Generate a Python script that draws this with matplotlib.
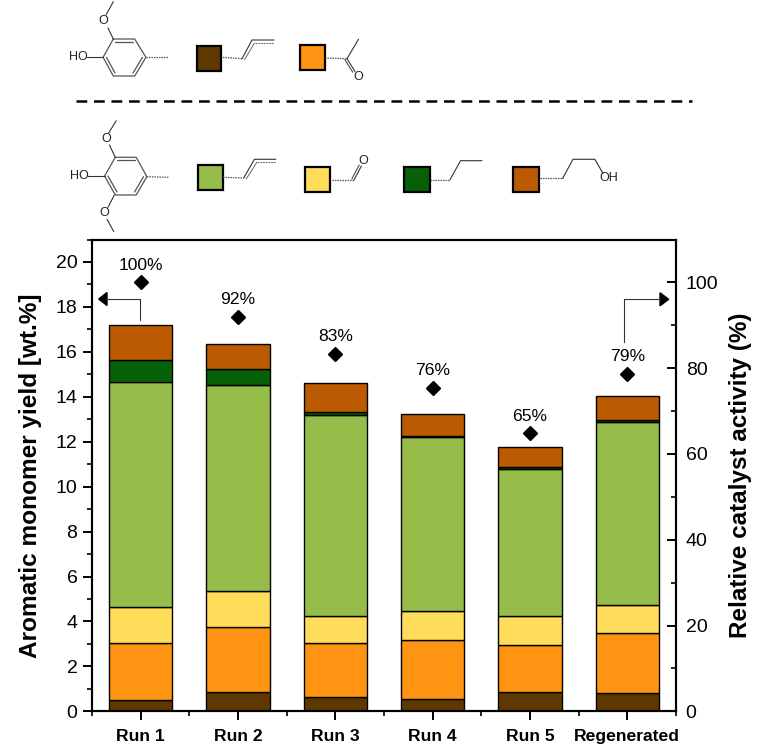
import numpy as np
import matplotlib
matplotlib.use('Agg')
import matplotlib.pyplot as plt
from matplotlib.patches import Rectangle, Polygon
from matplotlib.ticker import MultipleLocator, FixedLocator

plt.rcParams['font.family'] = ['Liberation Sans', 'DejaVu Sans']

runs = ['Run 1', 'Run 2', 'Run 3', 'Run 4', 'Run 5', 'Regenerated']
# cumulative tops of each stack segment
top_brown = [0.50, 0.86, 0.64, 0.55, 0.86, 0.83]
top_orange = [3.03, 3.77, 3.03, 3.19, 2.95, 3.47]
top_yellow = [4.63, 5.34, 4.24, 4.48, 4.24, 4.75]
top_green = [14.66, 14.51, 13.18, 12.22, 10.78, 12.87]
top_dkgreen = [15.64, 15.24, 13.34, 12.27, 10.88, 12.95]
top_rust = [17.18, 16.34, 14.60, 13.22, 11.76, 14.04]
activity = [100, 92, 83.4, 75.4, 64.8, 78.6]
activity_labels = ['100%', '92%', '83%', '76%', '65%', '79%']

BROWN = '#5f3800'
ORANGE = '#ff9412'
YELLOW = '#ffdc5a'
GREEN = '#96bd4a'
DKGREEN = '#056008'
RUST = '#bb5a00'

W, H = 763, 745
fig = plt.figure(figsize=(W / 100, H / 100), dpi=100)
L, R, T, B = 92, 676, 239.5, 711.3
ax = fig.add_axes([L / W, 1 - B / H, (R - L) / W, (B - T) / H])

x = np.arange(1, len(runs) + 1)
stack = [top_brown, top_orange, top_yellow, top_green, top_dkgreen, top_rust]
colors = [BROWN, ORANGE, YELLOW, GREEN, DKGREEN, RUST]
prev = np.zeros(len(runs))
for tops, c in zip(stack, colors):
    tops = np.array(tops)
    ax.bar(x, tops - prev, 0.65, bottom=prev, color=c, edgecolor='black', linewidth=1.0, zorder=2)
    prev = tops

ax.set_xlim(0.5, 6.5)
ax.set_ylim(0, 21)
ax.set_xticks(x)
ax.set_xticklabels(runs, fontsize=12.6, fontweight='bold')
ax.xaxis.set_minor_locator(FixedLocator(np.arange(0.5, 7, 1)))
ax.yaxis.set_major_locator(MultipleLocator(2))
ax.yaxis.set_minor_locator(MultipleLocator(1))
ax.tick_params(axis='y', which='major', labelsize=14, length=6.5, width=1.4, pad=4)
ax.tick_params(axis='y', which='minor', length=3.5, width=1.2)
ax.tick_params(axis='x', which='major', length=6.5, width=1.4, pad=6)
ax.tick_params(axis='x', which='minor', length=3.5, width=1.2)
ax.set_ylabel('Aromatic monomer yield [wt.%]', fontsize=17.6, fontweight='bold', va='center')
ax.yaxis.set_label_coords(-0.106, 0.5)

ax2 = ax.twinx()
ax2.set_ylim(0, 110)
ax2.yaxis.set_major_locator(MultipleLocator(20))
ax2.yaxis.set_minor_locator(MultipleLocator(10))
ax2.tick_params(axis='y', which='major', direction='in', labelsize=14, length=6.5, width=1.4, pad=7)
ax2.tick_params(axis='y', which='minor', direction='in', length=3.5, width=1.2)
ax2.set_ylabel('Relative catalyst activity (%)', fontsize=17.5, fontweight='bold', va='center')
ax2.yaxis.set_label_coords(1.11, 0.5)
ax2.plot(x, activity, ls='none', marker='D', ms=7.2, color='black', zorder=5)
for xi, a, lab in zip(x, activity, activity_labels):
    ax2.annotate(lab, (xi, a), xytext=(0, 12.5), textcoords='offset points',
                 ha='center', va='center', fontsize=12.6)

for a_ in (ax, ax2):
    for s in a_.spines.values():
        s.set_linewidth(1.5)

# scheme above the plot and the two arrows, drawn in pixel coordinates
ov = fig.add_axes([0, 0, 1, 1], facecolor='none')
ov.set_xlim(0, W)
ov.set_ylim(H, 0)
ov.axis('off')


def bond(pts, lw=0.8, color='#333333', ls='-'):
    xs, ys = zip(*pts)
    ov.plot(xs, ys, color=color, lw=lw, ls=ls, solid_capstyle='round')


def dotted(p, q):
    bond([p, q], lw=0.9, color='#555555', ls=(0, (1.2, 0.8)))


def atom(px, py, s):
    ov.text(px, py, s, fontsize=9, ha='center', va='center', color='#222222')


def ring(pts, doubles):
    bond(pts + [pts[0]], lw=0.9, color='#555555')
    cx = sum(p[0] for p in pts) / 6
    cy = sum(p[1] for p in pts) / 6
    for i in doubles:
        a, b = pts[i], pts[(i + 1) % 6]
        a2 = (a[0] + (cx - a[0]) * 0.16, a[1] + (cy - a[1]) * 0.16)
        b2 = (b[0] + (cx - b[0]) * 0.16, b[1] + (cy - b[1]) * 0.16)
        bond([a2, b2], lw=0.9, color='#555555')


def swatch(x0, x1, y0, y1, c):
    ov.add_patch(Rectangle((x0, y0), x1 - x0, y1 - y0, facecolor=c, edgecolor='black', lw=1.6))


def allyl(p, q, r, s):
    dotted(p, q)
    bond([q, r, s], lw=0.8)
    bond([(q[0] + 2.5, q[1] + 1), (r[0] + 2.5, r[1] + 3)], lw=0.7, color='#666666')
    bond([(r[0] + 2.5, r[1] + 3), (s[0], s[1] + 3)], lw=0.7, color='#666666', ls=(0, (2, 0.8)))


# guaiacyl
ring([(113.3, 39), (134.7, 39), (145.9, 57.3), (134.7, 76), (113.3, 76), (103.1, 57.3)], [0, 2, 4])
bond([(113.3, 39), (108, 28)])
bond([(106, 15), (113.3, 1.7)])
atom(103, 20.7, 'O')
bond([(86.6, 57.3), (103.1, 57.3)])
atom(78, 57.3, 'HO')
dotted((146, 57.3), (168, 57.3))
swatch(196.5, 221, 45.5, 71, BROWN)
allyl((223, 57.4), (242, 58.7), (252, 40), (274, 40))
swatch(299.5, 324.5, 45, 70, ORANGE)
dotted((325, 58), (347, 58.7))
bond([(347, 58.7), (358.5, 39.3)])
bond([(347, 58.7), (355, 71.5)])
bond([(344.8, 59.5), (352.8, 72.3)], lw=0.7)
atom(358, 77, 'O')

ov.plot([76, 692], [100.5, 100.5], color='black', lw=1.8, ls=(0, (4.3, 2.7)))

# syringyl
ring([(115.3, 157.3), (136.2, 157.3), (146.9, 176.7), (136.2, 195), (115.3, 195), (104.6, 176)], [0, 2, 4])
bond([(115.3, 157.3), (109.4, 145)])
bond([(108.5, 133.3), (116.2, 120.7)])
atom(106, 139, 'O')
bond([(114.3, 195), (108, 207.3)])
bond([(107, 219.3), (113.8, 231.7)])
atom(104, 213.3, 'O')
bond([(87.5, 175.7), (104.6, 175.7)])
atom(79, 175.7, 'HO')
dotted((146.9, 176.7), (169.3, 177.3))
swatch(197.5, 222.8, 164.7, 190, GREEN)
allyl((223, 177.3), (243.7, 178), (254.4, 159.3), (275.8, 159.3))
swatch(305, 330, 167, 192.3, YELLOW)
dotted((332, 180), (354, 180))
bond([(354, 180), (361.4, 166)])
bond([(351.8, 179), (359.2, 165)], lw=0.7)
atom(363.3, 161, 'O')
swatch(403.7, 429.5, 167, 192.3, DKGREEN)
dotted((430, 179.7), (450, 179.7))
bond([(450, 179.7), (460.6, 160.7), (482, 160.7)])
swatch(513, 539, 167, 192.3, RUST)
dotted((540, 178.3), (562.7, 178.3))
bond([(562.7, 178.3), (573, 159.3), (594.8, 159.3), (603, 173.3)])
atom(608.5, 178.3, 'OH')

# arrows pointing at the matching axes
bond([(140.3, 320), (140.3, 299), (106, 299)], lw=0.8)
ov.add_patch(Polygon([(98.7, 299), (107, 292.5), (107, 305.5)], color='black'))
bond([(624.3, 341.7), (624.3, 299.3), (660, 299.3)], lw=0.8)
ov.add_patch(Polygon([(668.7, 299.3), (660, 292.8), (660, 305.8)], color='black'))

fig.savefig('out.png', dpi=100)
